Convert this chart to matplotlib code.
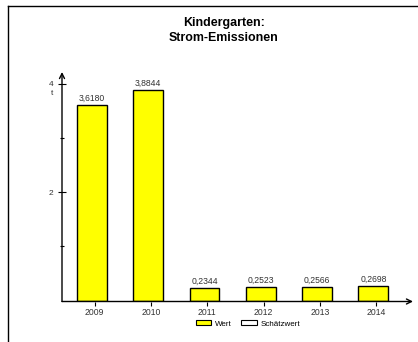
import matplotlib
matplotlib.use("Agg")
import matplotlib.pyplot as plt
from matplotlib.patches import Patch
from matplotlib.lines import Line2D

# data
years = ["2009", "2010", "2011", "2012", "2013", "2014"]
values = [3.6180, 3.8844, 0.2344, 0.2523, 0.2566, 0.2698]
value_labels = ["3,6180", "3,8844", "0,2344", "0,2523", "0,2566", "0,2698"]

plt.rcParams['font.family'] = ['Liberation Sans', 'DejaVu Sans']

W, H = 418, 342
fig = plt.figure(figsize=(W / 100, H / 100), dpi=100)
fig.patch.set_facecolor("white")

# axes placed in pixel terms
ax_left, ax_right, ax_bottom, ax_top = 62, 413, 301.5, 72
ax = fig.add_axes([ax_left / W, 1 - ax_bottom / H,
                   (ax_right - ax_left) / W, (ax_bottom - ax_top) / H])

x = list(range(len(years)))
bar_x = [i - 0.05 for i in x]
ax.bar(bar_x, values, width=0.53, color="#ffff00", edgecolor="black", linewidth=1.0, zorder=2)

for bx, v, lab in zip(bar_x, values, value_labels):
    ax.annotate(lab, xy=(bx, v), xytext=(0, 1.5), textcoords="offset points",
                ha="center", va="bottom", fontsize=6.2, color="#333333")

ax.set_xlim(-0.581, 5.654)
ax.set_ylim(-0.017, 4.218)

for s in ax.spines.values():
    s.set_visible(False)

# axis lines with open arrow heads
ax.annotate("", xy=(0, 1.0), xytext=(0, 0), xycoords="axes fraction",
            arrowprops=dict(arrowstyle="->", lw=1.0, color="black", shrinkA=0, shrinkB=0,
                            mutation_scale=9))
ax.annotate("", xy=(1.0, 0), xytext=(0, 0), xycoords="axes fraction",
            arrowprops=dict(arrowstyle="->", lw=1.0, color="black", shrinkA=0, shrinkB=0,
                            mutation_scale=9))

ax.set_xticks(x)
ax.set_xticklabels(years, fontsize=6.2, color="#333333")
ax.tick_params(axis="x", direction="out", length=3, width=0.8, pad=2, color="black")

ax.set_yticks([2, 4])
ax.set_yticklabels(["2", "4"], fontsize=6, color="#333333")
ax.set_yticks([1, 3], minor=True)
ax.tick_params(axis="y", which="major", direction="inout", length=6, width=0.8, pad=3)
ax.tick_params(axis="y", which="minor", direction="inout", length=3.5, width=0.8)
ax.annotate("t", xy=(0, 4), xycoords=("axes fraction", "data"), xytext=(-7.5, -7),
            textcoords="offset points", ha="center", va="center", fontsize=6, color="#333333")

ax.set_facecolor("none")

# title
fig.text(224 / W, 1 - 23 / H, "Kindergarten:", ha="center", va="center",
         fontsize=8.9, fontweight="bold")
fig.text(224 / W, 1 - 38 / H, "Strom-Emissionen", ha="center", va="center",
         fontsize=8.9, fontweight="bold")

# legend
handles = [Patch(facecolor="#ffff00", edgecolor="black", linewidth=0.8),
           Patch(facecolor="white", edgecolor="black", linewidth=0.8)]
fig.legend(handles, ["Wert", "Schätzwert"], loc="center", bbox_to_anchor=(248 / W, 1 - 324 / H),
           ncol=2, frameon=False, fontsize=5.8, handlelength=1.9, handleheight=0.6,
           handletextpad=0.5, columnspacing=1.2, borderpad=0)

# outer frame lines (top and left)
fig.add_artist(Line2D([8 / W, 8 / W], [0, 1 - 6 / H], transform=fig.transFigure,
                      color="black", lw=1.0))
fig.add_artist(Line2D([8 / W, 1], [1 - 6 / H, 1 - 6 / H], transform=fig.transFigure,
                      color="black", lw=1.0))

fig.savefig("out.png", dpi=100)
